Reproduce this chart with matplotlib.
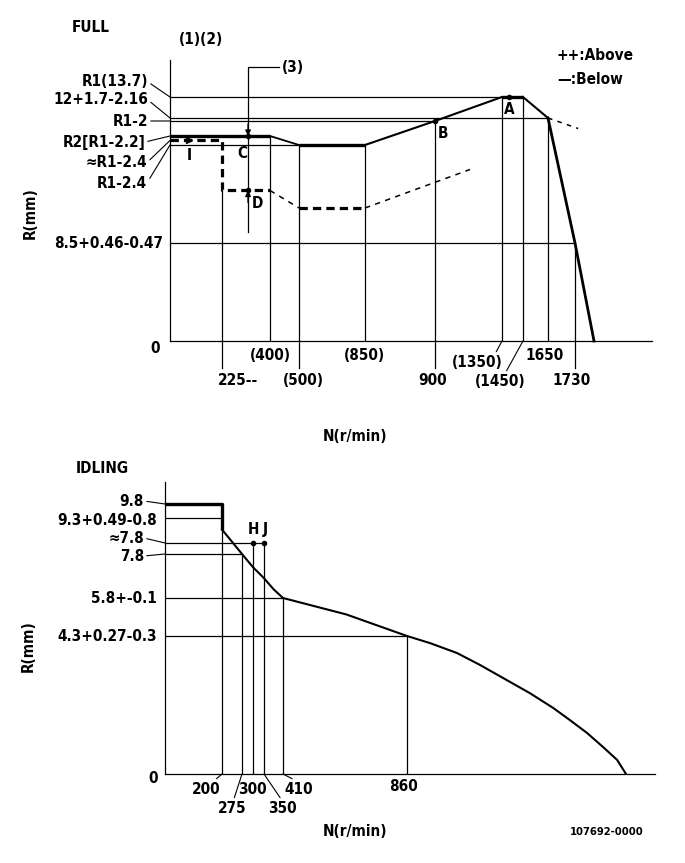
import numpy as np
import matplotlib
matplotlib.use('Agg')
import matplotlib.pyplot as plt
from matplotlib.ticker import NullLocator

plt.rcParams['font.family'] = ['DejaVu Sans']
plt.rcParams['font.weight'] = 'bold'
plt.rcParams['font.stretch'] = 'condensed'
plt.rcParams['font.size'] = 11

# ---------------- FULL (upper diagram), N in r/min, R in mm
full_n = [0, 400, 500, 850, 900, 1350, 1450, 1650, 1730, 1790]
full_r = [11.5, 11.5, 11.3, 11.3, 11.7, 13.7, 13.7, 12.0, 8.5, 0]
below_n = [0, 225, 225, 400, 500, 850, 1135]
below_r = [11.4, 11.4, 10.0, 10.0, 9.5, 9.5, 10.6]
ext_n = [1650, 1740]
ext_r = [12.0, 11.6]

full_hl_r = [13.7, 12.0, 11.7, 11.3, 8.5]
full_hl_n = [1350, 1650, 900, 500, 1730]
full_vl_n = [225, 400, 500, 850, 900, 1350, 1450, 1650, 1730]
full_vl_r = [10.0, 11.5, 11.3, 11.3, 11.7, 13.7, 13.7, 12.0, 8.5]
full_tick_lbl = ['225--', '(400)', '(500)', '(850)', '900', '(1350)', '(1450)', '1650', '1730']
full_r_lbl = ['R1(13.7)', '12+1.7-2.16', 'R1-2', 'R2[R1-2.2]', '≈R1-2.4', 'R1-2.4', '8.5+0.46-0.47']
full_r_val = [13.7, 12.0, 11.7, 11.5, 11.4, 11.3, 8.5]

# ---------------- IDLING (lower diagram)
idle_n = [0, 200, 200, 275, 300, 350, 380, 410, 640, 860, 927, 1006, 1073, 1141,
          1219, 1287, 1336, 1386, 1433, 1474, 1500]
idle_r = [9.8, 9.8, 8.7, 7.8, 7.2, 6.7, 6.2, 5.8, 5.15, 4.3, 4.08, 3.77, 3.40, 2.99,
          2.52, 2.06, 1.68, 1.28, 0.84, 0.44, 0]
idle_hl_r = [9.3, 8.0, 7.8, 5.8, 4.3]
idle_hl_n = [200, 350, 275, 410, 860]
idle_vl_n = [200, 275, 300, 350, 410, 860]
idle_vl_r = [9.8, 7.8, 8.0, 8.0, 5.8, 4.3]
idle_tick_lbl = ['200', '275', '300', '350', '410', '860']
idle_r_lbl = ['9.8', '9.3+0.49-0.8', '≈7.8', '7.8', '5.8+-0.1', '4.3+0.27-0.3']
idle_r_val = [9.8, 9.3, 8.0, 7.8, 5.8, 4.3]

W, H = 685, 863
fig = plt.figure(figsize=(W / 100, H / 100), dpi=100)


def knots(vals, pos):
    v = np.asarray(vals, float)
    p = np.asarray(pos, float)
    return (lambda a: np.interp(a, v, p), lambda a: np.interp(a, p, v))


def make_axes(rect, xk, yk, xlim, ylim):
    ax = fig.add_axes([rect[0] / W, 1 - (rect[1] + rect[3]) / H, rect[2] / W, rect[3] / H])
    ax.set_xscale('function', functions=knots(*xk))
    ax.set_yscale('function', functions=knots(*yk))
    ax.set_xlim(*xlim)
    ax.set_ylim(*ylim)
    ax.set_xticks([])
    ax.set_yticks([])
    ax.xaxis.set_minor_locator(NullLocator())
    ax.yaxis.set_minor_locator(NullLocator())
    for s in ['top', 'right']:
        ax.spines[s].set_visible(False)
    for s in ['left', 'bottom']:
        ax.spines[s].set_linewidth(0.9)
    ax.patch.set_alpha(0)
    return ax


def ftext(x, y, s, **kw):
    fig.text(x / W, 1 - y / H, s, **kw)


def lab(ax, xy, s, dx, dy, lead=None, **kw):
    kw.setdefault('ha', 'center')
    kw.setdefault('va', 'center')
    ap = None
    if lead is not None:
        ap = dict(arrowstyle='-', lw=0.8, color='k', relpos=lead, shrinkA=0, shrinkB=0)
    ax.annotate(s, xy=xy, xytext=(dx, dy), textcoords='offset pixels',
                arrowprops=ap, annotation_clip=False, **kw)


thin = dict(color='k', lw=0.9)

# ================= FULL
ax = make_axes((170, 60, 482, 281),
               ([0, 225, 400, 500, 850, 900, 1350, 1450, 1650, 1730, 1790, 2100],
                [0, 52, 100, 129, 195, 265, 332, 353, 378, 405, 424, 482]),
               ([0, 8.5, 11.3, 11.5, 11.7, 12.0, 13.7, 15.5],
                [0, 98, 196, 205, 220, 223, 244, 281]),
               (0, 2100), (0, 15.5))

ax.hlines(full_hl_r, 0, full_hl_n, **thin)
ax.vlines(full_vl_n, 0, full_vl_r, **thin)
# extensions under the axis
for n in [225, 500, 900, 1730]:
    ax.plot([n, n], [-27 / 281, 0], transform=ax.get_xaxis_transform(), clip_on=False, **thin)

# full curve
fn, fr = np.array(full_n), np.array(full_r)
ax.plot(fn[0:2], fr[0:2], color='k', lw=2.4, solid_capstyle='butt')
ax.plot(fn[1:3], fr[1:3], color='k', lw=1.3)
ax.plot(fn[2:4], fr[2:4], color='k', lw=2.4, solid_capstyle='butt')
ax.plot(fn[3:6], fr[3:6], color='k', lw=1.5)
ax.plot(fn[5:7], fr[5:7], color='k', lw=2.4, solid_capstyle='butt')
ax.plot(fn[6:8], fr[6:8], color='k', lw=1.5)
ax.plot(fn[7:], fr[7:], color='k', lw=2.0, clip_on=False)
ax.plot(ext_n, ext_r, color='k', lw=1.1, ls=(0, (3, 3.5)))

# below curve
bn, br = np.array(below_n), np.array(below_r)
dash_thick = dict(color='k', lw=2.3, ls=(0, (2.6, 1.6)))
dash_thin = dict(color='k', lw=1.1, ls=(0, (3.5, 3.5)))
ax.plot(bn[0:4], br[0:4], **dash_thick)
ax.plot(bn[3:5], br[3:5], **dash_thin)
ax.plot(bn[4:6], br[4:6], **dash_thick)
ax.plot(bn[5:7], br[5:7], **dash_thin)

# (3) measuring line with C / D arrows
ax.plot([320, 320, 430], [8.8, 15.15, 15.15], clip_on=False, **thin)
lab(ax, (430, 15.15), '(3)', 3, 0, ha='left')
for r, d in [(11.5, 12), (10.0, -12)]:
    ax.annotate('', xy=(320, r), xytext=(0, d), textcoords='offset pixels',
                arrowprops=dict(arrowstyle='-|>', color='k', lw=1, mutation_scale=8,
                                shrinkA=0, shrinkB=0))
ax.plot([320, 320], [11.5, 10.0], 'o', color='k', ms=3)
lab(ax, (320, 11.5), 'C', -6, -18)
lab(ax, (320, 10.0), 'D', 9, -13)
ax.plot([82], [11.4], '>', color='k', ms=4)
lab(ax, (82, 11.4), 'I', 0, -15)
ax.plot([1385, 900], [13.7, 11.7], 'o', color='k', ms=3)
lab(ax, (1385, 13.7), 'A', 0, -12)
lab(ax, (900, 11.7), 'B', 8, -12)

# tick labels
full_off = [(16, -39, None), (0, -14, None), (4, -39, None), (-1, -14, None), (-2, -39, None),
            (-25, -21, (0.85, 1.0)), (-23, -40, (0.6, 1.0)), (-3, -14, None), (-3, -39, None)]
for n, s, (dx, dy, ld) in zip(full_vl_n, full_tick_lbl, full_off):
    lab(ax, (n, 0), s, dx, dy, ld)
lab(ax, (0, 0), '0', -15, -7)

# R labels
full_roff = [(-22, 15), (-22, 18), (-22, 0), (-25, -6), (-23, -22), (-23, -38), (-7, 0)]
for r, s, (dx, dy) in zip(full_r_val, full_r_lbl, full_roff):
    lab(ax, (0, r), s, dx, dy, None if s.startswith('8.5') else (1, 0.5), ha='right')

ftext(91, 27, 'FULL', ha='center', va='center')
ftext(201, 40, '(1)(2)', ha='center', va='center')
ftext(557, 56, '++:Above', ha='left', va='center')
ftext(557, 79, '—:Below', ha='left', va='center')
ftext(30, 213, 'R(mm)', ha='center', va='center', rotation=90)
ftext(355, 436, 'N(r/min)', ha='center', va='center')

# ================= IDLING
bx = make_axes((165, 482, 490, 292),
               ([0, 200, 275, 300, 350, 410, 860, 1500, 1750],
                [0, 57, 77, 88, 99, 118, 242, 461, 490]),
               ([0, 4.3, 5.8, 7.8, 8.0, 9.3, 9.8, 10.5],
                [0, 138, 176, 220, 231, 256, 270, 292]),
               (0, 1750), (0, 10.5))

bx.hlines(idle_hl_r, 0, idle_hl_n, **thin)
bx.vlines(idle_vl_n, 0, idle_vl_r, **thin)
iname, ir = np.array(idle_n), np.array(idle_r)
bx.plot(iname[0:3], ir[0:3], color='k', lw=2.4, solid_capstyle='butt')
bx.plot(iname[2:], ir[2:], color='k', lw=1.5)

bx.plot([300, 350], [8.0, 8.0], 'o', color='k', ms=3)
lab(bx, (300, 8.0), 'H', 0, 14)
lab(bx, (350, 8.0), 'J', 1, 14)

idle_off = [(-16, -15, (0.75, 1.0)), (-10, -34, (0.55, 1.0)), (-1, -15, None),
            (18, -34, (0.5, 1.0)), (16, -15, (0.45, 1.0)), (-3, -12, None)]
for n, s, (dx, dy, ld) in zip(idle_vl_n, idle_tick_lbl, idle_off):
    lab(bx, (n, 0), s, dx, dy, ld)
lab(bx, (0, 0), '0', -12, -4)

idle_roff = [(-21, 3, True), (-8, -2, False), (-21, 5, True), (-21, -2, True),
             (-8, 0, False), (-8, 0, False)]
for r, s, (dx, dy, ld) in zip(idle_r_val, idle_r_lbl, idle_roff):
    lab(bx, (0, r), s, dx, dy, (1, 0.5) if ld else None, ha='right')

ftext(102, 468, 'IDLING', ha='center', va='center')
ftext(28, 646, 'R(mm)', ha='center', va='center', rotation=90)
ftext(355, 831, 'N(r/min)', ha='center', va='center')
ftext(607, 832, '107692-0000', ha='center', va='center', fontsize=8)

fig.savefig('out.png', dpi=100)
